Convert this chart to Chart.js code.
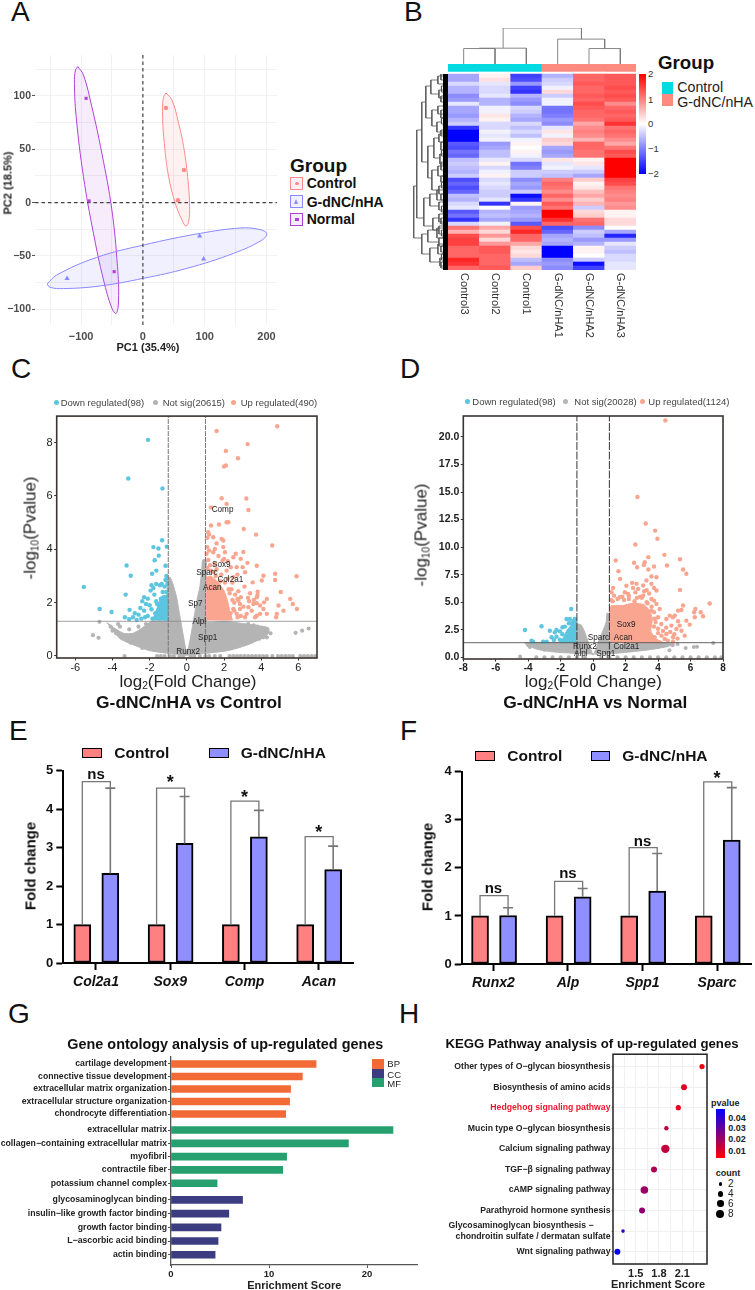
<!DOCTYPE html>
<html>
<head>
<meta charset="utf-8">
<script src="https://cdn.jsdelivr.net/npm/chart.js@4"></script>
<style>
  html, body { margin: 0; padding: 0; background: #fff; }
  #page { position: relative; width: 755px; height: 1290px; overflow: hidden; font-family: "Liberation Sans", Arial, sans-serif; color: #111; }
  #page canvas { position: absolute; }
  .t { position: absolute; white-space: nowrap; line-height: 1; }
  .t sub { font-size: 0.6em; line-height: 0; vertical-align: -0.25em; }
  .b { position: absolute; box-sizing: border-box; }
</style>
</head>
<body>
<div id="page"></div>
<script>
// ---- A: PCA
var pcaControl = [[37.3, 88.8], [66.4, 30.7], [56.7, 2.2]];
var pcaTreated = [[-122.7, -71.2], [91.8, -31.2], [98.3, -52.8]];
var pcaNormal = [[-91.9, 97.8], [-87, 1.6], [-46.5, -64.7]];
var pcaControlEllipse = [[37.3, 102.8], [47, 96.3], [57.8, 74.4], [65.9, 52.5], [72.4, 24.4], [75.6, -3.8], [74, -17.8], [69.7, -21.9], [63.2, -16.3], [52.4, -0.6], [41.6, 24.4], [34.6, 55.6], [31.9, 80.6], [33, 97.8], [37.3, 102.8]];
var pcaNormalEllipse = [[-105.3, 127.5], [-96.2, 119.7], [-82.7, 90], [-66.4, 46.3], [-50.2, -6.9], [-41.1, -60], [-39.4, -91.3], [-43.2, -103.8], [-50.2, -99], [-63.7, -72.5], [-80, -28.8], [-96.2, 24.4], [-108, 80.6], [-110.8, 111.9], [-109.1, 124.4], [-105.3, 127.5]];
var pcaTreatedEllipse = [[-155, -76.3], [-139.4, -67.8], [-74.6, -51.3], [1.1, -39.7], [92.9, -28.8], [157.8, -23.8], [187.5, -25], [200.4, -28.8], [192.9, -35], [146.9, -47.5], [71.3, -61.6], [1.1, -70.9], [-69.2, -78.1], [-128.6, -80.6], [-150.2, -79.4], [-155, -76.3]];

// ---- B: heatmap, z-score x 10, top row first
var heatSamples = ["Control3", "Control2", "Control1", "G-dNC/nHA1", "G-dNC/nHA2", "G-dNC/nHA3"];
var heatRows = [
  [-7, 1, -15, -6, 12, 13], [-7, 2.5, -14, -4, 12, 13], [-3, -2, -8, -3, 13, 13], [-6, -3, -15, -1, 12, 14],
  [-6, -3, -16, 3, 12, 13], [-9, -2, -6, -4, 13, 14], [-8, -6, -8, -1, 12, 13], [-2, -6, -9, -1, 14, 9],
  [-7, -1, -3, -11, 13, 12], [-7, -1, -4, -11, 12, 13], [-8, 2, -6, -10, 12, 12], [-6, 1, -7, -8, 11, 13],
  [-4, -3, -3, -9, 7, 16], [-16, -3, -5, -2, 9, 11], [-20, -1, -3, 2, 10, 12], [-20, -2, -5, -1, 9, 11],
  [-20, -1, -1, 4, 6, 9], [-13, -8, 1, 3, 12, 7], [-14, -7, 0, -7, 12, 11], [-11, -5, 1, -8, 11, 14],
  [-12, -5, -1, -7, 11, 13], [-5, -2, -3, 2, 1, 20], [-4, 1, -11, -2, 2, 20], [-5, -3, -10, -1, -2, 20],
  [-6, -1, -4, -4, -4, 20], [-4, 1, -4, -5, -7, 20], [-14, -3, -9, 10, 4, 15], [-12, -2, -7, 12, 1, 14],
  [-14, -3, -8, 11, 2, 11], [-12, -4, -4, 9, 5, 10], [-5, -4, -19, 12, 7, 9], [-6, -2, -16, 9, 4, 10],
  [-3, -16, 1, 13, 6, 8], [-2, 0, -8, 11, -4, 9], [-13, -6, -7, 20, 3, 1], [-11, -5, -6, 20, 4, 1],
  [-16, -7, -8, 16, 11, 3], [-3, -1, -13, 12, 12, 3], [11, 7, 14, -14, -9, 0], [6, 3, 17, -12, -4, -7],
  [14, 8, 12, -7, -5, -17], [15, 3, 12, -6, -8, -8], [15, 8, 7, -7, -6, -2], [12, 13, 3, -20, 1, -4],
  [12, 13, 2, -20, 1, -5], [12, 12, 3, -20, 0, -3], [17, 12, -5, -9, -4, -3], [16, 12, -7, -8, -19, -2],
  [12, 13, 4, -9, -15, -2]
];
var heatGroups = ["#00dae0", "#00dae0", "#00dae0", "#ff8a80", "#ff8a80", "#ff8a80"];
// dendrogram arms: x, height pairs
var colTree = [
  [[0.5, 0], [0.5, 46], [1.5, 46], [1.5, 0]],
  [[1, 46], [1, 47], [2.5, 47], [2.5, 0]],
  [[1.76, 47], [1.76, 107], [4.26, 107], [4.26, 74]],
  [[3.5, 0], [3.5, 74], [5, 74], [5, 46]],
  [[4.5, 0], [4.5, 46], [5.5, 46], [5.5, 0]]
];
// height, row top, row bottom, top child height, bottom child height
var rowTree = [
  [34, 28, 41, 31, 26], [31, 14, 36, 26, 24], [26, 7, 22, 22, 20], [22, 3, 11, 17, 16], [17, 1.5, 5, 10, 9],
  [16, 9, 13, 10, 11], [20, 18, 26, 14, 16], [14, 16, 21, 9, 8], [16, 24, 29, 10, 9], [24, 31, 38, 18, 15],
  [18, 30, 33, 11, 9], [15, 36, 39, 9, 9], [26, 40, 45, 20, 18], [20, 39, 42, 11, 9], [18, 43.5, 47, 10, 8],
  [10, 0.5, 2.5, 5, 5], [9, 4, 6, 5, 4], [10, 8, 10, 5, 5], [11, 12, 14.5, 6, 5], [9, 15, 17, 5, 5],
  [8, 20, 22.5, 5, 4], [10, 23, 25.5, 5, 5], [9, 28, 30, 5, 4], [11, 29, 31.5, 5, 5], [9, 32, 34, 4, 5],
  [9, 35, 37, 5, 5], [9, 38, 40, 5, 4], [11, 38.5, 41, 5, 5], [9, 41, 43, 5, 4], [10, 42.5, 45, 5, 5], [8, 46, 48, 4, 4],
  [7, 0, 1.5, 5, 5], [6.5, 3, 4.5, 5, 5], [7, 5.5, 7, 5, 5], [7, 9, 11, 5, 5], [6.5, 11, 12.5, 5, 5], [7, 14, 15.5, 5, 5],
  [7, 17, 19, 5, 5], [6.5, 19, 20.5, 5, 5], [7, 22, 24, 5, 5], [7, 25.5, 27, 5, 5], [6.5, 27, 28.5, 5, 5], [7, 30, 31.5, 5, 5],
  [6.5, 33, 34.5, 5, 5], [7, 36, 37.5, 5, 5], [6.5, 39, 40.5, 5, 5], [7, 43, 44.5, 5, 5], [6.5, 45, 46.5, 5, 5], [7, 47, 48.5, 5, 5]
];

// ---- C: volcano
var volcCDown = [[-2.09, 8.1], [-3.15, 6.65], [-1.31, 6.28], [-1.8, 4.08], [-1.53, 4.03], [-1.33, 4.34], [-1.08, 4.1], [-1.51, 3.76], [-1.73, 3.59], [-3.24, 3.39], [-3.02, 3.01], [-1.15, 3.38], [-1.64, 3.2], [-1.87, 3.08], [-5.54, 2.59], [-3.29, 2.3], [-4.69, 1.76], [-4.05, 1.65], [-3.33, 1.45], [-3.08, 1.73],
  [-2.3, 2.2], [-2.4, 2.05], [-2.2, 1.95], [-2.1, 2.15], [-2.5, 1.8], [-2.3, 1.7], [-2, 1.9], [-1.9, 1.75], [-2.6, 1.55], [-2.8, 1.6], [-2.9, 1.45], [-2.45, 1.4], [-2.1, 1.5], [-1.85, 1.4], [-1.7, 1.6], [-1.65, 2.05], [-1.75, 2.3], [-1.9, 2.65], [-1.95, 2.45], [-1.8, 2.55], [-1.65, 2.7], [-1.45, 2.65], [-1.35, 2.7], [-1.3, 2.4], [-1.15, 2.85], [-1.1, 3], [-1.05, 2.7], [-1.2, 2.6], [-1.1, 2.4], [-1.25, 2.2], [-1.4, 2.15], [-1.15, 2.2], [-1.05, 2], [-1.3, 1.95], [-1.5, 1.9], [-1.55, 1.7], [-1.2, 1.75], [-1.35, 1.55], [-1.1, 1.55], [-1.05, 1.75], [-1.45, 1.4], [-1.2, 1.4], [-1.05, 1.4], [-1.6, 1.45], [-2.7, 1.35], [-3.1, 1.38], [-1.6, 1.95], [-2.25, 1.45]];
var volcCDownDense = [[-1.05, 1.35], [-1.05, 2.3], [-1.4, 2.2], [-1.7, 1.6], [-1.85, 1.35], [-1.05, 1.35]];
var volcCUp = [[4.86, 8.61], [1.6, 8.43], [3.27, 7.94], [2.1, 7.68], [2.75, 7.41], [2.1, 7.14], [2, 7.1], [1.87, 5.91], [3.2, 5.9], [2.14, 5.7], [1.3, 5.57], [3.31, 5.47], [2.14, 5.01], [2.23, 5.01], [1.3, 4.89], [1.73, 4.93], [3.06, 4.76], [3.72, 4.55], [4.59, 4.14],
  [1.15, 4.64], [1.2, 4.55], [1.1, 4.43], [1.42, 4.45], [1.87, 4.39], [1.96, 4.33], [1.6, 4.22], [1.1, 4.08], [1.51, 4.01], [1.96, 4.08], [1.2, 3.95], [1.42, 3.89], [2.05, 3.89], [2.63, 3.83], [3.04, 3.9], [2, 3.64], [1.92, 3.58], [2.5, 3.7], [2.9, 3.64], [3.26, 3.49], [1.06, 3.83], [1.51, 3.45], [2.36, 3.33], [2.68, 3.33], [3, 3.33], [3.76, 3.38], [3.13, 3.14], [2.72, 3.05], [4.75, 3.08], [4.75, 2.85], [4.12, 3.01], [4.03, 2.83], [5.9, 2.99], [3.54, 2.76], [2.5, 2.95], [2.14, 3.2], [5.05, 2.4], [3.81, 2.41], [2.77, 2.43], [3.29, 2.18], [3.76, 2.2], [3.8, 2.29], [4.3, 2.14], [4.15, 2.01], [3.94, 1.89], [3.76, 1.98], [3.58, 1.95], [3.31, 1.83], [3.04, 1.85], [2.77, 2.08], [2.86, 1.95], [2.72, 2.14], [3.49, 1.7], [3.22, 1.58], [2.86, 1.76], [2.68, 1.58], [2.5, 1.76], [4.12, 1.76], [4.3, 1.58], [3.94, 1.58], [3.76, 1.51], [5.56, 2.14], [5.7, 1.95], [5.2, 1.7], [5.92, 1.76], [4.93, 1.89], [4.84, 1.58], [4.8, 1.45], [3.67, 1.45], [3.13, 1.45], [2.73, 1.45], [2.4, 2.5], [2.6, 2.3], [2.9, 2.2], [3.1, 2.6], [2.45, 2.75], [2.2, 2.9], [3.4, 2.35], [3.6, 2.1], [2.3, 2.35], [2.55, 2], [2.35, 1.6], [2.9, 1.5], [3.35, 2.05], [2.2, 3.55], [1.7, 3.75], [1.3, 3.2], [1.6, 3.25], [1.85, 3.05],
  [1.1, 3.3], [1.25, 3.4], [1.45, 3.15], [1.55, 3], [1.8, 2.8], [2.05, 2.75], [2.25, 2.5], [2.45, 2.1], [2.55, 1.7], [1.15, 3.6]];
var volcCUpDense = [[1.05, 1.35], [1.05, 2.95], [1.3, 3], [1.7, 2.75], [2, 2.45], [2.2, 2.05], [2.3, 1.7], [2.45, 1.35], [1.05, 1.35]];
var volcCCloud = [[-1.05, 1.3], [-1.05, 2.9], [-0.9, 2.95], [-0.75, 2.7], [-0.55, 2.2], [-0.45, 1.8], [-0.3, 1.2], [-0.15, 0.6], [-0.02, 0.15], [0.1, 0.35], [0.25, 0.9], [0.4, 1.5], [0.55, 2.1], [0.7, 2.6], [0.8, 3.2], [0.85, 3.6], [1.05, 3.6], [1.05, 1.3], [2, 1.3], [3, 1.22], [4, 1.12], [4.4, 1.05], [4.4, 0.85], [4, 0.65], [3.2, 0.4], [2.2, 0.2], [1, 0.1], [0, 0.03], [-1, 0.1], [-2, 0.2], [-3, 0.45], [-3.6, 0.65], [-4, 1], [-4.3, 1.25], [-3.9, 1.05], [-3.4, 0.85], [-2.9, 0.85], [-2.4, 1.05], [-1.9, 1.3], [-1.05, 1.3]];
var volcCGrey = [[-4.7, 1.28], [-5.05, 0.78], [-4.75, 0.68], [-3.35, 0], [5.85, 0.87], [6.2, 0.95], [6.55, 1.03], [4.5, 0.85], [4.3, 0.7], [4.1, 0.7], [-4.1, 1.1], [-4, 0.95], [-3.8, 0.85], [-3.5, 0.7], [-3.2, 0.6], [-3.6, 1.1], [-3, 0.5], [4.2, 0.95], [3.8, 1.1], [3.3, 1.2], [3.6, 1.15], [4, 0.9], [3.9, 0.65], [3.5, 0.55], [2.8, 0.4], [2.4, 0.3], [-2.4, 0.3], [-2.6, 1.1], [-3.1, 1], [-3.7, 1.2], [-2.2, 1.2],
  [-1.6, 0], [-1.4, 0], [-1.2, 0], [-0.9, 0], [-0.7, 0], [-0.4, 0], [-0.2, 0], [0.2, 0], [0.4, 0], [0.7, 0], [1, 0], [1.2, 0], [1.5, 0], [1.8, 0], [2.3, 0], [2.5, 0], [2.7, 0], [2.9, 0], [3.1, 0], [3.3, 0], [3.5, 0], [3.7, 0], [3.9, 0], [4.1, 0], [4.3, 0], [4.6, 0], [4.9, 0], [5.1, 0], [5.3, 0], [5.5, 0], [5.7, 0], [6.1, 0], [6.3, 0], [6.5, 0], [6.7, 0], [6.9, 0]];
var volcCGenes = ["Comp", "Sox9", "Sparc", "Col2a1", "Acan", "Sp7", "Alpl", "Spp1", "Runx2"];
var volcCGeneX = [1.92, 1.85, 1.08, 2.34, 1.37, 0.45, 0.67, 1.12, 0.07];
var volcCGeneY = [5.49, 3.43, 3.11, 2.85, 2.55, 1.94, 1.3, 0.68, 0.16];

// ---- D: volcano
var volcDDown = [[-1.35, 4.39], [-4.2, 2.48], [-3.18, 2.82], [-2.67, 2.42], [-3.8, 1.52], [-3.7, 1.42], [-3.08, 1.42], [-2.86, 1.42], [-2.26, 2.48], [-2.05, 2.36], [-2.36, 2.27], [-2.56, 1.82], [-2.26, 1.88], [-2.42, 1.58], [-1.89, 2.73], [-1.74, 2.79], [-1.64, 3.48], [-1.44, 3.48], [-1.13, 3.48], [-1.23, 3.27], [-1.33, 3.09], [-1.5, 3.1], [-1.1, 3.25], [-1.9, 2.1], [-2.05, 1.6], [-1.95, 1.45]];
var volcDDownDense = [[-1.05, 1.35], [-1.05, 3.2], [-1.3, 3], [-1.6, 2.5], [-1.8, 1.9], [-2, 1.35], [-1.05, 1.35]];
var volcDUp = [[4.45, 21.5], [2.73, 14.55], [3.24, 12.15], [3.82, 11.5], [3.96, 10.76], [2.6, 10.24], [4.39, 9.3], [3.4, 9.09], [5.35, 8.9], [4.55, 8.33], [1.39, 8.79], [2.52, 8.58], [3.18, 8.64], [3.12, 8.39], [2.71, 8.18], [3.4, 7.97], [3.75, 8.24], [5.54, 7.97], [5.74, 7.58], [1.56, 7.82], [1.66, 7.12], [5.35, 6.12], [7.18, 4.88],
  [3.9, 7.27], [3.59, 7.33], [3.28, 6.97], [2.4, 6.76], [2.67, 6.67], [3.08, 6.52], [3.59, 6.67], [3.9, 6.06], [2.77, 6.21], [2.46, 6.3], [1.95, 5.91], [1.23, 6.3], [1.13, 5.91], [1.29, 5.6], [1.64, 5.45], [2.15, 5.76], [3.08, 5.6], [3.59, 5.3], [3.9, 4.85], [4.1, 4.39], [4, 3.64], [4.2, 3.03], [3.59, 4.24], [5.44, 4.3], [5.54, 4.7], [5.23, 4.24], [6.22, 4.09], [6.3, 4.39], [6.63, 4.09], [6.77, 3.73], [6.26, 3.64], [5.95, 2.97], [5.74, 3.33], [4.92, 3.64], [4.51, 3.48], [4.72, 3.79], [5.03, 3.79], [5.33, 2.88], [5.23, 3.27], [5.44, 2.42], [5.13, 2.58], [4.82, 2.88], [5.64, 1.97], [4.92, 1.82], [4.51, 2.12], [4.21, 1.97], [4.41, 1.67], [3.79, 1.82], [4.92, 1.42],
  [2.2, 5.3], [2.55, 5.1], [2.9, 5.5], [3.3, 6.1], [3.75, 6.3], [3.45, 5.8], [3.15, 6], [2.05, 6.5], [2.6, 5.9], [1.8, 5.5], [3.75, 5.15], [3.35, 4.9], [4.5, 2.7], [4.3, 2.4], [4, 2.6], [3.85, 3.2], [4.75, 2.3], [5, 2.1], [5.2, 1.7], [4.6, 1.5],
  [1.2, 5.1], [1.5, 5.3], [1.9, 5.2], [2.2, 5.6], [2.7, 5.4], [3, 5.4], [3.3, 5], [3.6, 4.6], [3.75, 4.1], [3.8, 3.5], [3.75, 2.8], [4, 2.2], [1.1, 5.2]];
var volcDUpDense = [[1.05, 1.35], [1.05, 4.6], [1.8, 4.7], [2.4, 4.9], [3.1, 4.8], [3.45, 4.3], [3.65, 3.5], [3.55, 2.4], [3.85, 1.7], [4.3, 1.35], [1.05, 1.35]];
var volcDCloud = [[-1, 1.3], [-1, 3], [-0.75, 2.95], [-0.55, 2.4], [-0.35, 1.6], [-0.15, 0.75], [0, 0.2], [0.15, 0.7], [0.35, 1.5], [0.6, 2.4], [0.8, 3.2], [0.85, 4], [1, 3.9], [1, 1.3], [3, 1.3], [4.5, 1.3], [5, 1.2], [4.5, 0.95], [3.5, 0.7], [2, 0.45], [0.5, 0.3], [-1, 0.35], [-2.5, 0.5], [-3.5, 0.75], [-4.2, 1.3], [-1, 1.3]];
var volcDGrey = [[-4.5, 0.08], [6.2, 0.95], [6.4, 0.97], [5.7, 0.85], [7.4, 1.3], [4.7, 0.65], [5.2, 1.2], [4.9, 1.1], [-4, 1.1], [-3.9, 0.95], [-3, 0.7],
  [-3.5, 0], [-3, 0], [-2.5, 0], [-2, 0], [-1.5, 0], [-1, 0], [-0.5, 0], [0.5, 0], [1, 0], [1.5, 0], [2, 0], [2.5, 0], [3, 0], [3.5, 0], [4, 0], [4.5, 0], [5, 0], [5.5, 0], [6, 0], [6.5, 0], [7, 0], [7.5, 0], [7.9, 0]];
var volcDGenes = ["Sox9", "Sparc", "Acan", "Runx2", "Col2a1", "Alpl", "Spp1"];
var volcDGeneX = [2.03, 0.33, 1.85, -0.51, 2.05, -0.76, 0.78];
var volcDGeneY = [2.97, 1.76, 1.76, 0.97, 1, 0.3, 0.3];

// ---- E, F: qPCR bars
var genesE = ["Col2a1", "Sox9", "Comp", "Acan"];
var controlE = [1, 1, 1, 1];
var treatedE = [2.33, 3.11, 3.28, 2.43];
var errTopE = [4.55, 4.33, 3.97, 3.04];
var bracketTopE = [4.72, 4.55, 4.21, 3.29];
var signifE = ["ns", "*", "*", "*"];
var signifYE = [4.89, 4.68, 4.28, 3.38];

var genesF = ["Runx2", "Alp", "Spp1", "Sparc"];
var controlF = [1, 1, 1, 1];
var treatedF = [1.01, 1.4, 1.52, 2.58];
var errTopF = [1.17, 1.57, 2.3, 3.67];
var bracketTopF = [1.425, 1.72, 2.42, 3.79];
var signifF = ["ns", "ns", "ns", "*"];
var signifYF = [1.57, 1.87, 2.55, 3.85];

// ---- G: GO enrichment
var goTerms = ["cartilage development", "connective tissue development", "extracellular matrix organization", "extracellular structure organization", "chondrocyte differentiation", "extracellular matrix", "collagen\u2212containing extracellular matrix", "myofibril", "contractile fiber", "potassium channel complex", "glycosaminoglycan binding", "insulin\u2212like growth factor binding", "growth factor binding", "L\u2212ascorbic acid binding", "actin binding"];
var goScores = [14.8, 13.4, 12.2, 12.1, 11.7, 22.65, 18.1, 11.8, 11.4, 4.7, 7.3, 5.9, 5.1, 4.8, 4.5];
var goGroups = [0, 0, 0, 0, 0, 2, 2, 2, 2, 2, 1, 1, 1, 1, 1];

// ---- H: KEGG enrichment
var keggTerms = ["Other types of O\u2212glycan biosynthesis", "Biosynthesis of amino acids", "Hedgehog signaling pathway", "Mucin type O\u2212glycan biosynthesis", "Calcium signaling pathway", "TGF\u2212\u03b2 signaling pathway", "cAMP signaling pathway", "Parathyroid hormone synthesis", ["Glycosaminoglycan biosynthesis \u2212\u00a0\u00a0\u00a0\u00a0\u00a0\u00a0\u00a0", "chondroitin sulfate / dermatan sulfate"], "Wnt signaling pathway"];
var keggScores = [2.354, 2.122, 2.049, 1.895, 1.882, 1.736, 1.612, 1.582, 1.337, 1.264];
var keggPvalues = [0.003, 0.006, 0.005, 0.012, 0.012, 0.016, 0.02, 0.022, 0.04, 0.049];
var keggCounts = [4, 5, 4, 3, 8, 5, 7, 5, 2, 5];

var FF = '"Liberation Sans", Arial, sans-serif';
Chart.defaults.font.family = FF;
Chart.defaults.animation = false;
var page = document.getElementById("page");

function text(html, x, y, css, anchor, rot) {
  var d = document.createElement("div");
  d.className = "t";
  d.innerHTML = html;
  d.style.cssText = "left:" + x + "px;top:" + y + "px;" + (css || "");
  var tx = anchor === "l" ? "0" : anchor === "r" ? "-100%" : "-50%";
  d.style.transform = "translate(" + tx + ",-50%)" + (rot ? " rotate(" + rot + "deg)" : "");
  page.appendChild(d);
}
function rect(x, y, w, h, css) {
  var d = document.createElement("div");
  d.className = "b";
  d.style.cssText = "left:" + x + "px;top:" + y + "px;width:" + w + "px;height:" + h + "px;" + css;
  page.appendChild(d);
}
function pts(list) { return list.map(function (p) { return { x: p[0], y: p[1] }; }); }

// draws words at data positions
var wordsPlugin = {
  id: "words",
  afterDatasetsDraw: function (chart, args, opts) {
    var c = chart.ctx;
    (opts.items || []).forEach(function (w) {
      c.save();
      c.font = w.font;
      c.fillStyle = w.color || "#111";
      c.textAlign = "center";
      c.textBaseline = "middle";
      c.fillText(w.text, chart.scales.x.getPixelForValue(w.x), chart.scales.y.getPixelForValue(w.y));
      c.restore();
    });
  }
};
var framePlugin = {
  id: "frame",
  afterDraw: function (chart, args, opts) {
    if (!opts.color) return;
    var a = chart.chartArea, c = chart.ctx;
    c.save();
    c.strokeStyle = opts.color;
    c.lineWidth = opts.width;
    c.strokeRect(a.left, a.top, a.right - a.left, a.bottom - a.top);
    c.restore();
  }
};
// sample names run downwards under the heatmap
var sampleNamesPlugin = {
  id: "sampleNames",
  afterDraw: function (chart) {
    var c = chart.ctx, s = chart.scales.x;
    heatSamples.forEach(function (name, i) {
      c.save();
      c.translate(s.getPixelForTick(i), chart.chartArea.bottom + 3);
      c.rotate(Math.PI / 2);
      c.font = "11px " + FF;
      c.fillStyle = "#333";
      c.textBaseline = "middle";
      c.fillText(name, 0, 0);
      c.restore();
    });
  }
};

// box = plot area in page pixels, m = margins around it
function panel(box, m, cfg) {
  var cv = document.createElement("canvas");
  var w = Math.round(box.r - box.l + m.l + m.r), h = Math.round(box.b - box.t + m.t + m.b);
  cv.width = w; cv.height = h;
  cv.style.left = (box.l - m.l) + "px";
  cv.style.top = (box.t - m.t) + "px";
  cv.style.width = w + "px";
  cv.style.height = h + "px";
  page.appendChild(cv);
  var o = cfg.options = cfg.options || {};
  o.responsive = false;
  o.layout = { padding: { top: m.t, right: m.r, left: 0, bottom: 0 }, autoPadding: false };
  o.plugins = Object.assign({ legend: { display: false }, tooltip: { enabled: false } }, o.plugins || {});
  o.scales.x.afterFit = function (s) { s.height = m.b; };
  o.scales.y.afterFit = function (s) { s.width = m.l; };
  cfg.plugins = [wordsPlugin, framePlugin].concat(cfg.plugins || []);
  // first listed is painted first; for a stack it also ends up on top
  (cfg.data.datasets || []).forEach(function (d, i, all) { d.order = all.length - i; });
  return new Chart(cv, cfg);
}
function ticksAt(list) { return function (s) { s.ticks = list.map(function (v) { return { value: v }; }); }; }
function hiddenAxis(min, max, extra) {
  return Object.assign({ type: "linear", min: min, max: max, grid: { display: false }, border: { display: false }, ticks: { display: false } }, extra || {});
}
function line(data, color, width, extra) {
  return Object.assign({ type: "scatter", data: data, showLine: true, borderColor: color, borderWidth: width, pointRadius: 0, backgroundColor: color, clip: false }, extra || {});
}
function dots(data, color, r, style) {
  return { type: "scatter", data: pts(data), backgroundColor: color, borderWidth: 0, pointRadius: r, pointStyle: style || "circle" };
}
function heatColor(v) {
  var f = Math.min(Math.abs(v) / 20, 1), k = Math.round(255 * (1 - f));
  return v >= 0 ? "rgb(255," + k + "," + k + ")" : "rgb(" + k + "," + k + ",255)";
}

// ---------- panel letters
[["A", 11, 12], ["B", 404, 12], ["C", 11, 369], ["D", 400, 369], ["E", 9, 731], ["F", 400, 731], ["G", 8, 1014], ["H", 399, 1014]].forEach(function (p) {
  text(p[0], p[1], p[2], "font-size:28px;color:#111", "l");
});

// ---------- A
var pcaXMin = -174.6, pcaXMax = 217, pcaYMin = -114.7, pcaYMax = 138.4;
var cRed = "#ff8a8a", cBlue = "#8a8aff", cPurple = "#b040d8";
panel({ l: 35, r: 276.7, t: 55, b: 325 }, { l: 35, r: 8, t: 8, b: 20 }, {
  type: "scatter",
  data: { datasets: [
    line(pts(pcaNormalEllipse), cPurple, 1, { tension: 0.4, fill: "shape", backgroundColor: "rgba(176,64,216,0.1)" }),
    line(pts(pcaControlEllipse), cRed, 1, { tension: 0.4, fill: "shape", backgroundColor: "rgba(255,138,138,0.12)" }),
    line(pts(pcaTreatedEllipse), cBlue, 1, { tension: 0.4, fill: "shape", backgroundColor: "rgba(138,138,255,0.13)" }),
    line([{ x: pcaXMin, y: 0 }, { x: pcaXMax, y: 0 }], "#444", 1.2, { borderDash: [3.5, 3] }),
    line([{ x: 0, y: pcaYMin }, { x: 0, y: pcaYMax }], "#444", 1.2, { borderDash: [3.5, 3] }),
    dots(pcaControl, cRed, 2.2),
    dots(pcaTreated, cBlue, 3, "triangle"),
    dots(pcaNormal, cPurple, 2.2, "rect")
  ] },
  options: { scales: {
    x: { type: "linear", min: pcaXMin, max: pcaXMax,
      afterBuildTicks: ticksAt([-150, -100, -50, 0, 50, 100, 150, 200]),
      border: { display: false },
      grid: { color: "#f1f1f1", tickColor: "transparent", tickLength: 3 },
      ticks: { padding: 2, color: "#4d4d4d", font: { size: 11, weight: "bold" }, maxRotation: 0, autoSkip: false,
        callback: function (v) { return v % 100 === 0 ? String(v).replace("-", "\u2212") : ""; } } },
    y: { type: "linear", min: pcaYMin, max: pcaYMax,
      afterBuildTicks: ticksAt([-100, -75, -50, -25, 0, 25, 50, 75, 100, 125]),
      border: { display: false },
      grid: { color: "#f1f1f1", tickLength: 3, tickColor: function (c) { return c.tick && c.tick.value % 50 === 0 ? "#555" : "transparent"; } },
      ticks: { padding: 1, color: "#4d4d4d", font: { size: 10.5, weight: "bold" }, autoSkip: false,
        callback: function (v) { return v % 50 === 0 ? String(v).replace("-", "\u2212") : ""; } } }
  } }
});
text("PC1 (35.4%)", 148, 347, "font-size:11px;font-weight:bold;color:#222");
text("PC2 (18.5%)", 8, 183, "font-size:11px;font-weight:bold;color:#222", "c", -90);
text("Group", 290, 165, "font-size:19px;font-weight:bold", "l");
[["Control", 176.7, cRed, "rgba(255,138,138,.12)"], ["G-dNC/nHA", 195, cBlue, "rgba(138,138,255,.13)"], ["Normal", 212.7, cPurple, "rgba(176,64,216,.1)"]].forEach(function (it, i) {
  rect(290, it[1], 13, 13, "border:1px solid " + it[2] + ";background:" + it[3]);
  if (i === 0) rect(295, it[1] + 5, 3.5, 3.5, "border-radius:50%;background:" + it[2]);
  if (i === 1) rect(294, it[1] + 4, 0, 0, "border-left:2.5px solid transparent;border-right:2.5px solid transparent;border-bottom:5px solid " + it[2]);
  if (i === 2) rect(295, it[1] + 5, 3.5, 3.5, "background:" + it[2]);
  text(it[0], 306.7, it[1] + 6.5, "font-size:14px;font-weight:bold", "l");
});

// ---------- B
var heatBar = { borderWidth: 0, barPercentage: 1, categoryPercentage: 1 };
var heatSets = [
  Object.assign({ data: [2, 2, 2, 2, 2, 2], backgroundColor: heatGroups }, heatBar),
  Object.assign({ data: [0.5, 0.5, 0.5, 0.5, 0.5, 0.5], backgroundColor: "#fff" }, heatBar)
];
heatRows.forEach(function (row) {
  heatSets.push(Object.assign({ data: row.map(function () { return 1; }), backgroundColor: row.map(heatColor) }, heatBar));
});
panel({ l: 447.7, r: 635.3, t: 64, b: 270 }, { l: 0, r: 0, t: 0, b: 72 }, {
  type: "bar",
  data: { labels: heatSamples, datasets: heatSets },
  options: { scales: {
    x: { stacked: true, grid: { display: false }, border: { display: false }, ticks: { display: false } },
    y: hiddenAxis(0, 51.5, { stacked: true })
  } },
  plugins: [sampleNamesPlugin]
});
panel({ l: 447.7, r: 635.3, t: 28.3, b: 64 }, { l: 0, r: 0, t: 0, b: 0 }, {
  type: "scatter",
  data: { datasets: colTree.map(function (arm) { return line(pts(arm), "#7a7a7a", 0.9); }) },
  options: { scales: { x: hiddenAxis(0, 6), y: hiddenAxis(0, 107) } }
});
var rowLines = rowTree.map(function (t) {
  return line(pts([[t[3], t[1]], [t[0], t[1]], [t[0], t[2]], [t[4], t[2]]]), "#555", 0.8);
});
rowLines.push(line(pts([[2.5, 0], [2.5, 49]]), "#000", 5));
panel({ l: 412, r: 447.7, t: 74, b: 270 }, { l: 0, r: 0, t: 0, b: 0 }, {
  type: "scatter",
  data: { datasets: rowLines },
  options: { scales: { x: hiddenAxis(0, 35.7, { reverse: true }), y: hiddenAxis(0, 49, { reverse: true }) } }
});
rect(639, 74, 6.7, 99.7, "background:linear-gradient(#ff0000,#ffffff 50%,#0000ff)");
[["2", 74], ["1", 99.5], ["0", 124], ["\u22121", 149], ["\u22122", 173.5]].forEach(function (l) {
  text(l[0], 648, l[1], "font-size:9.5px;color:#333", "l");
});
text("Group", 658, 63, "font-size:18.7px;font-weight:bold", "l");
rect(661.7, 82.3, 11, 11.7, "background:#00dae0");
rect(661.7, 94, 11, 11.7, "background:#ff8a80");
text("Control", 677.3, 86.7, "font-size:14.2px;color:#222", "l");
text("G-dNC/nHA", 677.3, 101.7, "font-size:14.2px;color:#222", "l");

// ---------- C, D
var cGrey = "#b4b4b4", cUp = "#f9a58f", cDown = "#5cc5df";
function volcano(box, xr, yr, xTicks, yTicks, sets, tickCfg, genes) {
  panel(box, { l: box.l, r: 9, t: 8, b: 18 }, {
    type: "scatter",
    data: { datasets: sets },
    options: {
      plugins: { frame: { color: "#3a3330", width: 1.6 }, words: { items: genes } },
      scales: {
        x: { type: "linear", min: xr[0], max: xr[1], afterBuildTicks: ticksAt(xTicks),
          grid: { drawOnChartArea: false, tickLength: 2.5, tickColor: "#333" }, border: { display: false },
          ticks: Object.assign({ padding: 1, autoSkip: false, maxRotation: 0, color: "#222" }, tickCfg.x) },
        y: { type: "linear", min: yr[0], max: yr[1], afterBuildTicks: ticksAt(yTicks),
          grid: { drawOnChartArea: false, tickLength: 2.5, tickColor: "#333" }, border: { display: false },
          ticks: Object.assign({ padding: 1.5, autoSkip: false, color: "#222" }, tickCfg.y) }
      }
    }
  });
}
function geneWords(names, xs, ys) {
  return names.map(function (n, i) { return { text: n, x: xs[i], y: ys[i], font: "8.2px " + FF, color: "#222" }; });
}
volcano({ l: 56.7, r: 316.7, t: 415.7, b: 657.3 }, [-7, 7], [-0.075, 8.99], [-6, -4, -2, 0, 2, 4, 6], [0, 2, 4, 6, 8], [
  line(pts(volcCCloud), cGrey, 1, { fill: "shape", tension: 0.2 }),
  dots(volcCGrey, cGrey, 2.1),
  line(pts(volcCUpDense), cUp, 1, { fill: "shape" }),
  dots(volcCUp, cUp, 2.2),
  line(pts(volcCDownDense), cDown, 1, { fill: "shape" }),
  dots(volcCDown, cDown, 2.2),
  line([{ x: -7, y: 1.3 }, { x: 7, y: 1.3 }], "#8a8a8a", 0.8),
  line([{ x: -1, y: -0.075 }, { x: -1, y: 8.99 }], "#777", 1, { borderDash: [5, 1] }),
  line([{ x: 1, y: -0.075 }, { x: 1, y: 8.99 }], "#777", 1, { borderDash: [5, 1] })
], { x: { font: { size: 11 } }, y: { font: { size: 11 } } }, geneWords(volcCGenes, volcCGeneX, volcCGeneY));

volcano({ l: 463.3, r: 723.3, t: 415.7, b: 658.3 }, [-8, 8], [-0.15, 21.9], [-8, -6, -4, -2, 0, 2, 4, 6, 8], [0, 2.5, 5, 7.5, 10, 12.5, 15, 17.5, 20], [
  line(pts(volcDCloud), cGrey, 1, { fill: "shape", tension: 0.2 }),
  dots(volcDGrey, cGrey, 2),
  line(pts(volcDUpDense), cUp, 1, { fill: "shape", tension: 0.2 }),
  dots(volcDUp, cUp, 2.2),
  line(pts(volcDDownDense), cDown, 1, { fill: "shape" }),
  dots(volcDDown, cDown, 2.2),
  line([{ x: -8, y: 1.33 }, { x: 8, y: 1.33 }], "#555", 0.9),
  line([{ x: -1, y: -0.15 }, { x: -1, y: 21.9 }], "#333", 1, { borderDash: [8, 1.5] }),
  line([{ x: 1, y: -0.15 }, { x: 1, y: 21.9 }], "#333", 1, { borderDash: [8, 1.5] })
], { x: { font: { size: 10, weight: "bold" } }, y: { font: { size: 10.5, weight: "bold" }, callback: function (v) { return v.toFixed(1); } } }, geneWords(volcDGenes, volcDGeneX, volcDGeneY));

function dotLegend(items, y) {
  items.forEach(function (it) {
    rect(it[0] - 2.5, y - 2.5, 5, 5, "border-radius:50%;background:" + it[1]);
    text(it[2], it[3], y, "font-size:9.5px;color:#444", "l");
  });
}
dotLegend([[56.7, cDown, "Down regulated(98)", 60.7], [155.7, cGrey, "Not sig(20615)", 162.7], [233.3, cUp, "Up regulated(490)", 240.7]], 402.7);
dotLegend([[467.7, cDown, "Down regulated(98)", 472.3], [565.3, cGrey, "Not sig(20028)", 574.3], [642.3, cUp, "Up regulated(1124)", 648.3]], 401.7);
text("log<sub>2</sub>(Fold Change)", 188, 680.7, "font-size:17px;color:#222");
text("-log<sub>10</sub>(Pvalue)", 30, 528, "font-size:17px;color:#222", "c", -90);
text("G-dNC/nHA vs Control", 189, 703, "font-size:17.4px;font-weight:bold");
text("log<sub>2</sub>(Fold Change)", 593.3, 680.7, "font-size:17px;color:#222");
text("-log<sub>10</sub>(Pvalue)", 420.7, 535, "font-size:17px;color:#222", "c", -90);
text("G-dNC/nHA vs Normal", 595.3, 703, "font-size:17.4px;font-weight:bold");

// ---------- E, F
var barRed = "#ff8080", barBlue = "#8f8fff", markGrey = "#777";
function barPanel(box, xr, yMax, off, genes, ctrl, trt, errTop, brTop, sig, sigY) {
  var barCommon = { type: "bar", borderColor: "#000", borderWidth: 2, barThickness: 17, grouped: false, borderSkipped: false };
  var sets = [
    Object.assign({ data: ctrl.map(function (v, i) { return { x: i + off[0], y: v }; }), backgroundColor: barRed }, barCommon),
    Object.assign({ data: trt.map(function (v, i) { return { x: i + off[1], y: v }; }), backgroundColor: barBlue }, barCommon)
  ];
  genes.forEach(function (g, i) {
    var xb = i + off[1], xa = i + off[0];
    sets.push(line(pts([[xb, trt[i]], [xb, errTop[i]], [xb - 0.067, errTop[i]], [xb + 0.067, errTop[i]]]), markGrey, 1.6));
    sets.push(line(pts([[xa, ctrl[i]], [xa, brTop[i]], [xb, brTop[i]], [xb, errTop[i]]]), markGrey, 1.3));
  });
  panel(box, { l: box.l - 2, r: 1, t: 10, b: 32 }, {
    data: { datasets: sets },
    options: {
      plugins: { words: { items: sig.map(function (s, i) {
        return { text: s, x: i, y: sigY[i], font: "bold " + (s === "*" ? 18 : 15) + "px " + FF, color: "#111" };
      }) } },
      scales: {
        x: { type: "linear", offset: false, min: xr[0], max: xr[1], afterBuildTicks: ticksAt([0, 1, 2, 3]),
          border: { color: "#000", width: 2 },
          grid: { offset: false, drawOnChartArea: false, tickLength: 7, tickWidth: 2, tickColor: "#000" },
          ticks: { padding: 4, color: "#111", autoSkip: false, maxRotation: 0, font: { size: 14, weight: "bold", style: "italic" },
            callback: function (v) { return genes[v]; } } },
        y: { type: "linear", min: 0, max: yMax,
          afterBuildTicks: ticksAt(Array.from({ length: yMax + 1 }, function (_, i) { return i; })),
          border: { color: "#000", width: 2 },
          grid: { drawOnChartArea: false, tickLength: 7, tickWidth: 2, tickColor: "#000" },
          ticks: { padding: 3, color: "#111", font: { size: 13, weight: "bold" } } }
      }
    }
  });
}
barPanel({ l: 63.3, r: 353.3, t: 770, b: 963 }, [-0.44, 3.46], 5, [-0.184, 0.193], genesE, controlE, treatedE, errTopE, bracketTopE, signifE, signifYE);
barPanel({ l: 461.7, r: 751, t: 770.7, b: 963.3 }, [-0.425, 3.455], 4, [-0.179, 0.197], genesF, controlF, treatedF, errTopF, bracketTopF, signifF, signifYF);
text("Fold change", 30, 866, "font-size:15px;font-weight:bold", "c", -90);
text("Fold change", 427.3, 866.7, "font-size:15px;font-weight:bold", "c", -90);
function barLegend(boxA, textA, boxB, textB, y) {
  rect(boxA, y - 5, 19.5, 10, "border:1.6px solid #000;background:" + barRed);
  text("Control", textA, y, "font-size:15.5px;font-weight:bold", "l");
  rect(boxB, y - 5, 19.5, 10, "border:1.6px solid #000;background:" + barBlue);
  text("G-dNC/nHA", textB, y, "font-size:15.5px;font-weight:bold", "l");
}
barLegend(82.3, 114.3, 209.3, 240.7, 753);
barLegend(475.3, 507.3, 590.7, 622.3, 755.7);

// ---------- G
var goColors = ["#f26a35", "#3c3c80", "#25a06e"];
var goRowStep = [0.94, 1.03, 1];   // row pitch differs slightly per block
var goBlockGap = { 5: 1.2, 10: 1.25 };
var goRows = [];
goTerms.forEach(function (t, i) {
  if (i === 0) goRows.push(0);
  else goRows.push(goRows[i - 1] + (goBlockGap[i] || goRowStep[goGroups[i]]));
});
panel({ l: 171, r: 417.3, t: 1056.7, b: 1265 }, { l: 171, r: 8, t: 8, b: 25 }, {
  data: { datasets: [{
    type: "bar",
    data: goScores.map(function (v, i) { return { x: v, y: goRows[i] }; }),
    backgroundColor: goGroups.map(function (g) { return goColors[g]; }),
    barThickness: 7, grouped: false, borderWidth: 0
  }] },
  options: {
    indexAxis: "y",
    scales: {
      x: { type: "linear", min: 0, max: 25.1, afterBuildTicks: ticksAt([0, 10, 20]),
        border: { color: "#555", width: 1.3 }, grid: { drawOnChartArea: false, tickLength: 3, tickColor: "#555" },
        ticks: { padding: 1, color: "#222", font: { size: 9.5, weight: "bold" }, maxRotation: 0 } },
      y: { type: "linear", offset: false, reverse: true, min: -0.525, max: 15.1, afterBuildTicks: ticksAt(goRows),
        border: { color: "#555", width: 1.3 }, grid: { offset: false, drawOnChartArea: false, tickLength: 3, tickColor: "#555" },
        ticks: { padding: 1, color: "#222", autoSkip: false, font: { size: 8.7, weight: "bold" },
          callback: function (v, i) { return goTerms[i]; } } }
    }
  }
});
text("Gene ontology analysis of up-regulated genes", 225.3, 1044, "font-size:14.4px;font-weight:bold");
text("Enrichment Score", 294.3, 1285, "font-size:11px;font-weight:bold;color:#222");
rect(371.7, 1059.3, 12.3, 9.7, "background:" + goColors[0]);
rect(371.7, 1069, 12.3, 9.3, "background:" + goColors[1]);
rect(371.7, 1078.3, 12.3, 9, "background:" + goColors[2]);
text("BP", 387.3, 1064, "font-size:9.5px;color:#222", "l");
text("CC", 387.3, 1074.7, "font-size:9.5px;color:#222", "l");
text("MF", 387.3, 1084.3, "font-size:9.5px;color:#222", "l");

// ---------- H
function pColor(p) {
  var f = Math.min(p / 0.05, 1);
  return "rgb(" + Math.round(255 * (1 - f)) + ",0," + Math.round(255 * f) + ")";
}
var keggRanks = keggTerms.map(function (t, i) { return i + 1; });
panel({ l: 612.7, r: 706.7, t: 1054, b: 1264.3 }, { l: 175, r: 2, t: 6, b: 18 }, {
  type: "scatter",
  data: { datasets: [{
    data: keggScores.map(function (v, i) { return { x: v, y: keggRanks[i] }; }),
    backgroundColor: keggPvalues.map(pColor),
    borderWidth: 0,
    pointRadius: keggCounts.map(function (n) { return 1 + 0.4 * n; })
  }] },
  options: {
    plugins: { frame: { color: "#222", width: 1.5 } },
    scales: {
      x: { type: "linear", min: 1.208, max: 2.418, afterBuildTicks: ticksAt([1.35, 1.5, 1.65, 1.8, 1.95, 2.1, 2.25]),
        border: { display: false }, grid: { color: "#f0f0f0", tickLength: 2, tickColor: "transparent" },
        ticks: { padding: 1, color: "#222", autoSkip: false, maxRotation: 0, font: { size: 11, weight: "bold" },
          callback: function (v) { return [1.5, 1.8, 2.1].indexOf(v) >= 0 ? v.toFixed(1) : ""; } } },
      y: { type: "linear", reverse: true, min: 0.4, max: 10.6, afterBuildTicks: ticksAt(keggRanks),
        border: { display: false }, grid: { color: "#f0f0f0", tickLength: 1.5, tickColor: "#999" },
        ticks: { padding: 1, autoSkip: false, font: { size: 8.7, weight: "bold" },
          color: function (c) { return c.index === 2 ? "#f0142d" : "#222"; },
          callback: function (v, i) { return keggTerms[i]; } } }
    }
  }
});
text("KEGG Pathway analysis of up-regulated genes", 592, 1044, "font-size:13.2px;font-weight:bold");
text("Enrichment Score", 658, 1284, "font-size:11px;font-weight:bold;color:#222");
text("pvalue", 725.3, 1102.5, "font-size:9px;font-weight:bold;color:#222");
rect(715.7, 1109, 9.3, 48.7, "background:linear-gradient(#0000ff,#ff0000)");
[["0.04", 1117.7], ["0.03", 1128], ["0.02", 1139.3], ["0.01", 1150.7]].forEach(function (l) {
  text(l[0], 728.3, l[1], "font-size:9px;font-weight:bold;color:#222", "l");
});
text("count", 728, 1172.7, "font-size:9px;font-weight:bold;color:#222");
[["2", 1184, 3.2], ["4", 1194, 5.4], ["6", 1203.7, 6.6], ["8", 1214, 8.2]].forEach(function (l) {
  rect(720.3 - l[2] / 2, l[1] - l[2] / 2, l[2], l[2], "border-radius:50%;background:#000");
  text(l[0], 730.7, l[1], "font-size:10px;color:#222");
});
</script>
</body>
</html>
